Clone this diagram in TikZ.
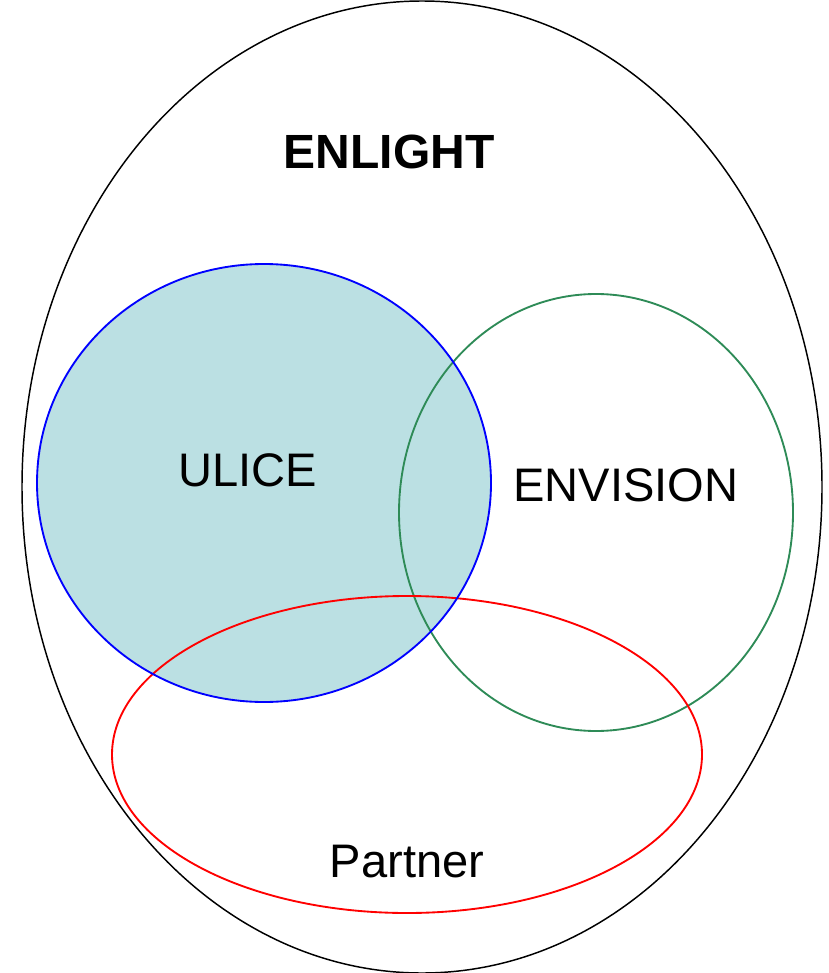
\documentclass[tikz,border=0pt]{standalone}
\usepackage{fontspec}
\setmainfont{Liberation Sans}
\definecolor{ulicefill}{RGB}{187,224,227}
\definecolor{envgreen}{RGB}{46,139,87}

\tikzset{every picture/.style={line width=0.75pt}}
\tikzset{setlabel/.style={anchor=center,inner sep=0.75pt,font=\fontsize{35.3}{40}\selectfont}}

\begin{document}
\begin{tikzpicture}[x=0.75pt,y=0.75pt,yscale=-1,xscale=1]
\useasboundingbox (0,0) rectangle (828,973);

%Shape: Ellipse [id:outer]
\draw  [color=black,line width=1.1pt] (422,487) ellipse (400 and 486);
%Shape: Circle [id:ulice]
\fill  [ulicefill] (264,483) ellipse (227 and 219);
%Shape: Ellipse [id:envision]
\draw  [color=envgreen,line width=1.4pt] (596,512.5) ellipse (197 and 218.5);
%Shape: Ellipse [id:partner]
\draw  [color=red,line width=1.4pt] (407,754.5) ellipse (295 and 158.5);
%Shape: Circle outline [id:ulice]
\draw  [color=blue,line width=1.4pt] (264,483) ellipse (227 and 219);

% Text Node
\node (enlight) [setlabel,font=\fontsize{36}{40}\selectfont\bfseries] at (389,152) {ENLIGHT};
% Text Node
\node (ulice) [setlabel] at (248,470) {ULICE};
% Text Node
\node (envision) [setlabel] at (626,485) {ENVISION};
% Text Node
\node (partner) [setlabel] at (407,862) {Partner};

\end{tikzpicture}
\end{document}
